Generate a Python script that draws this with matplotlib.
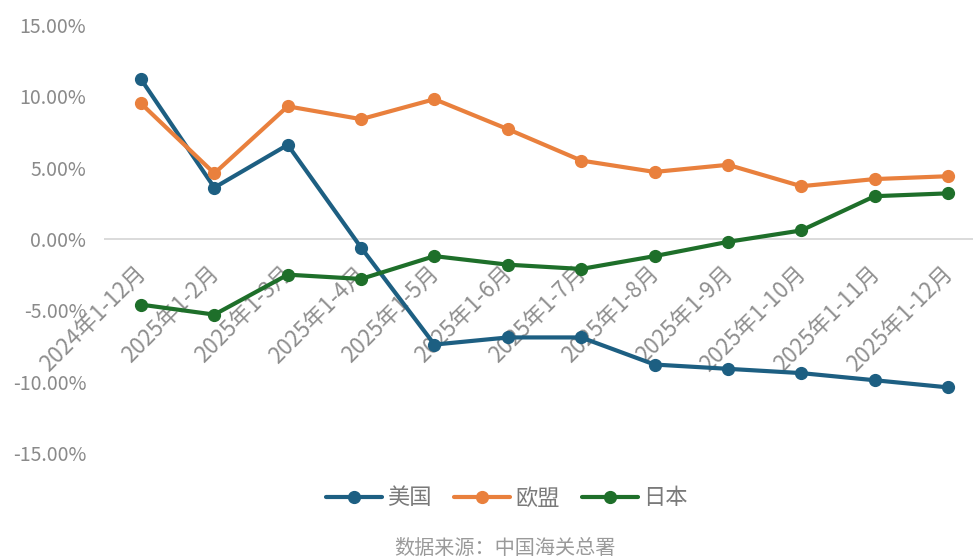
import matplotlib
matplotlib.use("Agg")
import matplotlib.pyplot as plt
import matplotlib.transforms as mtransforms
from matplotlib.ticker import FuncFormatter

plt.rcParams['font.family'] = ['Noto Sans CJK SC', 'DejaVu Sans']

categories = ["2024年1-12月", "2025年1-2月", "2025年1-3月", "2025年1-4月",
              "2025年1-5月", "2025年1-6月", "2025年1-7月", "2025年1-8月",
              "2025年1-9月", "2025年1-10月", "2025年1-11月", "2025年1-12月"]
us = [11.2, 3.6, 6.6, -0.6, -7.4, -6.9, -6.9, -8.8, -9.1, -9.4, -9.9, -10.4]
eu = [9.5, 4.6, 9.3, 8.4, 9.8, 7.7, 5.5, 4.7, 5.2, 3.7, 4.2, 4.4]
jp = [-4.6, -5.3, -2.5, -2.8, -1.2, -1.8, -2.1, -1.2, -0.2, 0.6, 3.0, 3.2]
series_names = ["美国", "欧盟", "日本"]
colors = ["#1d5f82", "#e9803d", "#1e6f2a"]
yticks = [-15, -10, -5, 0, 5, 10, 15]

W, H = 973, 559
fig = plt.figure(figsize=(W / 100, H / 100), dpi=100)
ax = fig.add_axes([104.3 / W, 1 - 453 / H, (984.7 - 104.3) / W, (453 - 25) / H])

x = list(range(len(categories)))
for vals, name, c in zip([us, eu, jp], series_names, colors):
    ax.plot(x, vals, color=c, lw=3.0, marker='o', ms=8.5, label=name,
            solid_joinstyle='round', solid_capstyle='round', zorder=3)

ax.set_xlim(-0.5, len(categories) - 0.5)
ax.set_ylim(-15, 15)
ax.set_yticks(yticks)
ax.yaxis.set_major_formatter(FuncFormatter(lambda v, p: f"{v:.2f}%"))
ax.tick_params(axis='y', length=0, pad=13, labelsize=14, labelcolor='#8a8a8a')
ax.tick_params(axis='x', length=0, labelbottom=False)
for s in ax.spines.values():
    s.set_visible(False)
ax.axhline(0, color='#d4d4d4', lw=1.2, zorder=1)

offset = mtransforms.ScaledTranslation(1 / 100, -31 / 100, fig.dpi_scale_trans)
for i, lab in enumerate(categories):
    ax.text(i, 0, lab, transform=ax.transData + offset, rotation=45,
            rotation_mode='anchor', ha='right', va='center',
            fontsize=16, color='#8f8f8f', zorder=2)

leg = fig.legend(loc='center', bbox_to_anchor=(507 / W, 1 - 498 / H), ncol=3,
                 frameon=False, fontsize=16, handlelength=2.5,
                 handletextpad=0.25, columnspacing=1.0, labelcolor='#7a7a7a')

fig.text(505 / W, 1 - 549 / H, "数据来源：中国海关总署", ha='center', va='center',
         fontsize=14.5, color='#9a9a9a')

fig.savefig("out.png", dpi=100)
